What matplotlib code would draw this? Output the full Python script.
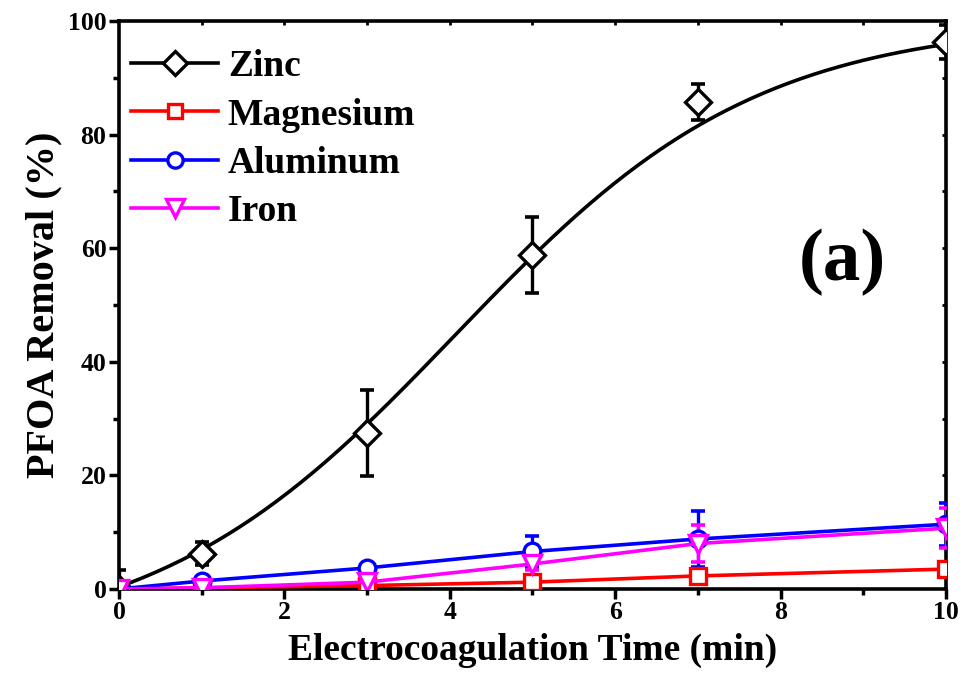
import numpy as np
import matplotlib.pyplot as plt

# 电凝时间 (min)
time_min = [0, 1, 3, 5, 7, 10]

zinc = [0.0, 6.2, 27.5, 58.8, 85.7, 96.3]
zinc_err = [3.3, 2.0, 7.6, 6.7, 3.2, 3.0]
magnesium = [0.0, 0.2, 0.6, 1.2, 2.3, 3.5]
magnesium_err = [0.3, 0.3, 0.4, 0.5, 0.6, 0.6]
aluminum = [0.0, 1.4, 3.7, 6.6, 8.8, 11.4]
aluminum_err = [0.3, 0.5, 0.5, 2.7, 5.0, 3.8]
iron = [0.0, 0.2, 1.2, 4.4, 8.0, 10.7]
iron_err = [0.3, 0.5, 0.8, 1.0, 3.3, 3.5]

# 锌的拟合曲线读数
zinc_fit_t = [0, 1, 2, 3, 4, 5, 6, 7, 8, 9, 10]
zinc_fit = [0.0, 7.2, 17.0, 28.5, 43.5, 59.0, 71.5, 82.0, 88.2, 92.7, 96.1]

plt.rcParams['font.family'] = 'Liberation Serif'
plt.rcParams['font.weight'] = 'bold'

fig = plt.figure(figsize=(9.65, 6.82), dpi=100)
ax = fig.add_axes([0.1233, 0.1364, 0.857, 0.8328])

# Boltzmann拟合: y = A1*s + A2*(1-s), s = 1/(1+exp((x-x0)/dx))
x = np.array(zinc_fit_t, dtype=float)
y = np.array(zinc_fit)
best = None
for x0 in np.linspace(2, 7, 201):
    for dx in np.linspace(0.5, 5, 181):
        s = 1 / (1 + np.exp((x - x0) / dx))
        A = np.column_stack([s, 1 - s])
        coef, *_ = np.linalg.lstsq(A, y, rcond=None)
        r = np.sum((A @ coef - y) ** 2)
        if best is None or r < best[0]:
            best = (r, x0, dx, coef)
_, x0, dx, coef = best
xf = np.linspace(0, 10, 200)
sf = 1 / (1 + np.exp((xf - x0) / dx))
yf = coef[0] * sf + coef[1] * (1 - sf)

lw = 2.6
mew = 2.4
cap = 5

ax.plot(xf, yf, color='black', lw=lw, zorder=3)
ax.errorbar(time_min, zinc, yerr=zinc_err, fmt='none', ecolor='black',
            elinewidth=2.4, capsize=cap, capthick=2.6, zorder=4)
ax.plot(time_min, zinc, ls='none', marker='D', ms=13, mfc='white',
        mec='black', mew=mew, zorder=5)

series = [
    (magnesium, magnesium_err, 'red', 's', 11, 'Magnesium'),
    (aluminum, aluminum_err, 'blue', 'o', 12, 'Aluminum'),
    (iron, iron_err, 'magenta', 'v', 13, 'Iron'),
]
for vals, err, c, m, size, name in series:
    ax.errorbar(time_min, vals, yerr=err, fmt='none', ecolor=c,
                elinewidth=2.4, capsize=cap, capthick=2.6, zorder=4)
    ax.plot(time_min, vals, color=c, lw=lw, marker=m, ms=size, mfc='white',
            mec=c, mew=mew, zorder=5)

# 图例
handles = [
    plt.Line2D([], [], color='black', lw=lw, marker='D', ms=12, mfc='white', mec='black', mew=mew),
    plt.Line2D([], [], color='red', lw=lw, marker='s', ms=10, mfc='white', mec='red', mew=mew),
    plt.Line2D([], [], color='blue', lw=lw, marker='o', ms=11, mfc='white', mec='blue', mew=mew),
    plt.Line2D([], [], color='magenta', lw=lw, marker='v', ms=13, mfc='white', mec='magenta', mew=mew),
]
ax.legend(handles, ['Zinc', 'Magnesium', 'Aluminum', 'Iron'], loc='upper left',
          frameon=False, prop={'size': 27, 'weight': 'bold'}, handlelength=2.3,
          handletextpad=0.27, labelspacing=0.35, borderaxespad=0, borderpad=0,
          bbox_to_anchor=(0.015, 0.95))

ax.text(0.927, 0.575, '(a)', transform=ax.transAxes, ha='right', va='center',
        fontsize=54, fontweight='bold')

ax.set_xlim(0, 10)
ax.set_ylim(0, 100)
ax.set_xticks([0, 2, 4, 6, 8, 10])
ax.set_xticks([1, 3, 5, 7, 9], minor=True)
ax.set_yticks([0, 20, 40, 60, 80, 100])
ax.set_yticks([10, 30, 50, 70, 90], minor=True)
ax.tick_params(axis='both', which='major', direction='out', length=7, width=2.5,
               labelsize=18.5, pad=2)
ax.tick_params(axis='both', which='minor', direction='out', length=4, width=2.5)
for t in ax.get_xticklabels() + ax.get_yticklabels():
    t.set_fontweight('bold')
for sp in ax.spines.values():
    sp.set_linewidth(2.6)

ax.set_xlabel('Electrocoagulation Time (min)', fontsize=27, fontweight='bold', labelpad=6)
ax.set_ylabel('PFOA Removal (%)', fontsize=29, fontweight='bold', labelpad=4)

# 上、右轴的小刻度
axt = ax.secondary_xaxis('top')
axt.set_xticks([1, 2, 3, 4, 5, 6, 7, 8, 9])
axt.tick_params(direction='in', length=3, width=2, labeltop=False)
axr = ax.secondary_yaxis('right')
axr.set_yticks([10, 20, 30, 40, 50, 60, 70, 80, 90])
axr.tick_params(direction='in', length=3, width=2, labelright=False)

fig.savefig('out.png', dpi=100)
